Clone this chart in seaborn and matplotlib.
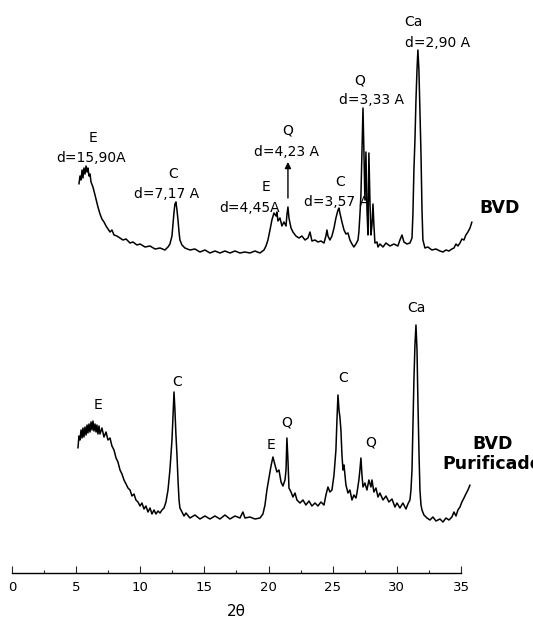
import numpy as np
import pandas as pd
import matplotlib
matplotlib.use("Agg")
import matplotlib.pyplot as plt
import seaborn as sns
from matplotlib.ticker import MultipleLocator

# ---------------- data ----------------
# BVD (top trace) : 2theta and intensity (arbitrary units)
bvd_2theta = [5.22, 5.30, 5.38, 5.46, 5.53, 5.61, 5.69, 5.77, 5.85, 5.92, 6.00, 6.08, 6.16, 6.31, 6.47,
              6.62, 6.70, 6.86, 7.01, 7.17, 7.33, 7.48, 7.64, 7.79, 7.95, 8.18, 8.42, 8.65, 8.89, 9.20,
              9.43, 9.74, 9.98, 10.37, 10.76, 11.15, 11.54, 11.92, 12.16, 12.31, 12.47, 12.55, 12.63,
              12.70, 12.78, 12.86, 12.94, 13.02, 13.09, 13.25, 13.48, 13.87, 14.26, 14.65, 15.04, 15.43,
              15.82, 16.21, 16.60, 16.99, 17.38, 17.77, 18.16, 18.55, 18.94, 19.33, 19.64, 19.80, 19.95,
              20.11, 20.26, 20.42, 20.58, 20.65, 20.73, 20.89, 21.04, 21.20, 21.36, 21.43, 21.51, 21.59,
              21.75, 21.90, 22.13, 22.37, 22.60, 22.84, 23.07, 23.23, 23.38, 23.62, 23.85, 24.08, 24.32,
              24.47, 24.55, 24.63, 24.78, 24.94, 25.10, 25.25, 25.41, 25.49, 25.56, 25.72, 25.88, 26.03,
              26.19, 26.34, 26.50, 26.65, 26.81, 26.97, 27.04, 27.12, 27.20, 27.28, 27.36, 27.43, 27.51,
              27.59, 27.67, 27.75, 27.82, 27.90, 27.98, 28.06, 28.14, 28.21, 28.29, 28.45, 28.53, 28.68,
              28.92, 29.15, 29.46, 29.77, 30.08, 30.24, 30.40, 30.55, 30.79, 31.02, 31.18, 31.25, 31.33,
              31.41, 31.49, 31.57, 31.64, 31.72, 31.80, 31.88, 31.96, 32.03, 32.19, 32.42, 32.73, 33.05,
              33.36, 33.59, 33.83, 34.06, 34.29, 34.45, 34.61, 34.76, 34.92, 35.07, 35.23, 35.38, 35.54,
              35.70, 35.85]
bvd_intensity = [89, 97, 93, 103, 95, 105, 99, 107, 101, 105, 97, 99, 91, 86, 78,
                 70, 66, 59, 54, 51, 47, 44, 41, 43, 38, 37, 35, 33, 34, 30,
                 31, 28, 29, 26, 27, 24, 25, 23, 26, 29, 37, 49, 61,
                 69, 71, 63, 53, 41, 33, 28, 25, 23, 24, 21, 23, 20,
                 22, 20, 22, 20, 22, 20, 21, 20, 22, 20, 23, 27, 33,
                 43, 53, 60, 57, 61, 52, 55, 47, 51, 47, 58, 66, 55,
                 45, 41, 37, 35, 37, 33, 35, 41, 32, 33, 31, 32, 30,
                 37, 43, 37, 33, 37, 45, 55, 63, 65, 60, 51, 43, 39,
                 40, 33, 29, 26, 29, 33, 41, 58, 78, 123, 165, 123, 73,
                 121, 63, 38, 120, 73, 38, 48, 69, 48, 30, 31, 26, 29,
                 26, 30, 27, 29, 27, 33, 38, 31, 29, 30, 35, 58, 103,
                 133, 173, 203, 223, 203, 163, 120, 63, 33, 25, 26, 23, 24,
                 22, 21, 23, 22, 24, 25, 29, 27, 30, 34, 33, 38, 41,
                 45, 51]

# BVD Purificado (bottom trace)
pur_2theta = [5.14, 5.22, 5.30, 5.38, 5.46, 5.53, 5.61, 5.69, 5.77, 5.85, 5.92, 6.00, 6.08, 6.16, 6.24,
              6.31, 6.39, 6.47, 6.55, 6.62, 6.70, 6.78, 6.86, 7.01, 7.17, 7.33, 7.48, 7.64, 7.79, 7.95,
              8.11, 8.26, 8.42, 8.57, 8.73, 8.89, 9.04, 9.20, 9.35, 9.51, 9.66, 9.82, 9.98, 10.13, 10.29,
              10.44, 10.60, 10.76, 10.91, 11.07, 11.22, 11.38, 11.54, 11.69, 11.85, 12.00, 12.16, 12.31,
              12.39, 12.47, 12.55, 12.63, 12.70, 12.78, 12.86, 12.94, 13.02, 13.09, 13.25, 13.41, 13.56,
              13.87, 14.26, 14.65, 15.04, 15.43, 15.82, 16.21, 16.60, 16.99, 17.38, 17.77, 18.00, 18.16,
              18.55, 18.94, 19.33, 19.56, 19.72, 19.87, 20.03, 20.19, 20.34, 20.50, 20.65, 20.81, 20.97,
              21.12, 21.28, 21.36, 21.43, 21.51, 21.59, 21.75, 21.90, 22.06, 22.21, 22.45, 22.68, 22.91,
              23.15, 23.38, 23.62, 23.85, 24.08, 24.32, 24.47, 24.63, 24.78, 24.94, 25.10, 25.25, 25.33,
              25.41, 25.49, 25.56, 25.64, 25.72, 25.80, 25.88, 26.03, 26.19, 26.34, 26.50, 26.65, 26.81,
              26.89, 27.04, 27.12, 27.20, 27.28, 27.36, 27.51, 27.67, 27.82, 27.98, 28.06, 28.21, 28.37,
              28.53, 28.68, 28.92, 29.15, 29.38, 29.62, 29.85, 30.01, 30.24, 30.47, 30.71, 30.86, 31.02,
              31.10, 31.18, 31.25, 31.33, 31.41, 31.49, 31.57, 31.64, 31.72, 31.80, 31.88, 31.96, 32.11,
              32.35, 32.58, 32.81, 33.05, 33.36, 33.59, 33.83, 34.06, 34.29, 34.45, 34.61, 34.76, 34.92,
              35.07, 35.23, 35.38, 35.54, 35.70]
pur_intensity = [85, 97, 93, 103, 95, 105, 96, 106, 98, 108, 100, 109, 101, 111, 103,
                 112, 102, 109, 101, 108, 99, 107, 99, 105, 96, 101, 93, 95, 87, 83,
                 75, 71, 63, 59, 53, 49, 45, 43, 37, 39, 33, 31, 27, 30, 24,
                 27, 21, 25, 19, 23, 19, 22, 20, 23, 25, 31, 43, 63,
                 78, 93, 118, 141, 123, 98, 78, 53, 33, 25, 21, 17, 20,
                 15, 18, 14, 17, 14, 17, 14, 18, 14, 17, 15, 21, 15,
                 16, 14, 15, 19, 28, 43, 55, 67, 76, 68, 61, 63, 51,
                 47, 53, 63, 95, 73, 45, 41, 36, 40, 33, 30, 33, 28,
                 32, 27, 30, 27, 31, 28, 38, 46, 41, 43, 58, 83, 113,
                 138, 123, 116, 103, 78, 63, 68, 48, 40, 43, 33, 38, 35,
                 40, 53, 63, 75, 58, 46, 50, 43, 53, 46, 53, 41, 45,
                 36, 40, 33, 37, 31, 34, 26, 30, 25, 30, 24, 29, 33,
                 43, 63, 103, 153, 188, 208, 183, 133, 83, 43, 28, 23, 18,
                 15, 13, 16, 12, 14, 11, 15, 13, 16, 21, 17, 23, 26,
                 31, 35, 39, 43, 48]

bvd_offset = 300
pur_offset = 40

# peak labels: (text, 2theta, height)
bvd_labels = [("E", 6.31, 435), ("d=15,90A", 6.16, 415),
              ("C", 12.55, 399), ("d=7,17 A", 12.08, 379),
              ("E", 19.80, 386), ("d=4,45A", 18.55, 365),
              ("Q", 21.51, 443), ("d=4,23 A", 21.36, 421),
              ("C", 25.56, 391), ("d=3,57 A", 25.33, 371),
              ("Q", 27.12, 493), ("d=3,33 A", 28.06, 473),
              ("Ca", 31.33, 551), ("d=2,90 A", 33.20, 530)]
pur_labels = [("E", 6.70, 168), ("C", 12.86, 191), ("E", 20.19, 128),
              ("Q", 21.43, 151), ("C", 25.80, 195), ("Q", 27.98, 130),
              ("Ca", 31.49, 265)]

x_ticks = [0, 5, 10, 15, 20, 25, 30, 35]

# ---------------- figure ----------------
sns.set_style("white")
plt.rcParams["font.family"] = ["DejaVu Sans"]

fig = plt.figure(figsize=(5.33, 6.29), dpi=100)
ax = fig.add_axes([12 / 533, 56 / 629, 449 / 533, 573 / 629])

df_bvd = pd.DataFrame({"two_theta": bvd_2theta,
                       "intensity": np.array(bvd_intensity) + bvd_offset})
df_pur = pd.DataFrame({"two_theta": pur_2theta,
                       "intensity": np.array(pur_intensity) + pur_offset})

sns.lineplot(data=df_bvd, x="two_theta", y="intensity", ax=ax, color="black",
             linewidth=1.1, sort=False, estimator=None, clip_on=False)
sns.lineplot(data=df_pur, x="two_theta", y="intensity", ax=ax, color="black",
             linewidth=1.1, sort=False, estimator=None, clip_on=False)

for txt, xv, yv in bvd_labels + pur_labels:
    ax.text(xv, yv, txt, ha="center", va="center", fontsize=10, color="black")

ax.text(38.04, 365, "BVD", ha="center", va="center", fontsize=12.5,
        fontweight="bold", color="black", clip_on=False)
ax.text(37.45, 119, "BVD\nPurificado", ha="center", va="center", fontsize=12.5,
        fontweight="bold", color="black", linespacing=1.1, clip_on=False)

ax.annotate("", xy=(21.51, 411), xytext=(21.51, 375),
            arrowprops=dict(arrowstyle="-|>", color="black", lw=1.0,
                            mutation_scale=9, shrinkA=0, shrinkB=0))

ax.set_xlim(0, 35)
ax.set_ylim(0, 573)
ax.set_xticks(x_ticks)
ax.xaxis.set_minor_locator(MultipleLocator(2.5))
ax.tick_params(axis="x", which="major", direction="in", length=5, width=0.8,
               labelsize=9.5, pad=6, bottom=True, labelcolor="black")
ax.tick_params(axis="x", which="minor", direction="in", length=2.5, width=0.8,
               bottom=True)
ax.set_yticks([])
ax.set_ylabel("")
ax.set_xlabel("2θ", fontsize=11, labelpad=7, color="black")
for s in ["top", "right", "left"]:
    ax.spines[s].set_visible(False)
ax.spines["bottom"].set_linewidth(1.0)
ax.spines["bottom"].set_color("black")
ax.patch.set_alpha(0)

fig.savefig("out.png", dpi=100)
